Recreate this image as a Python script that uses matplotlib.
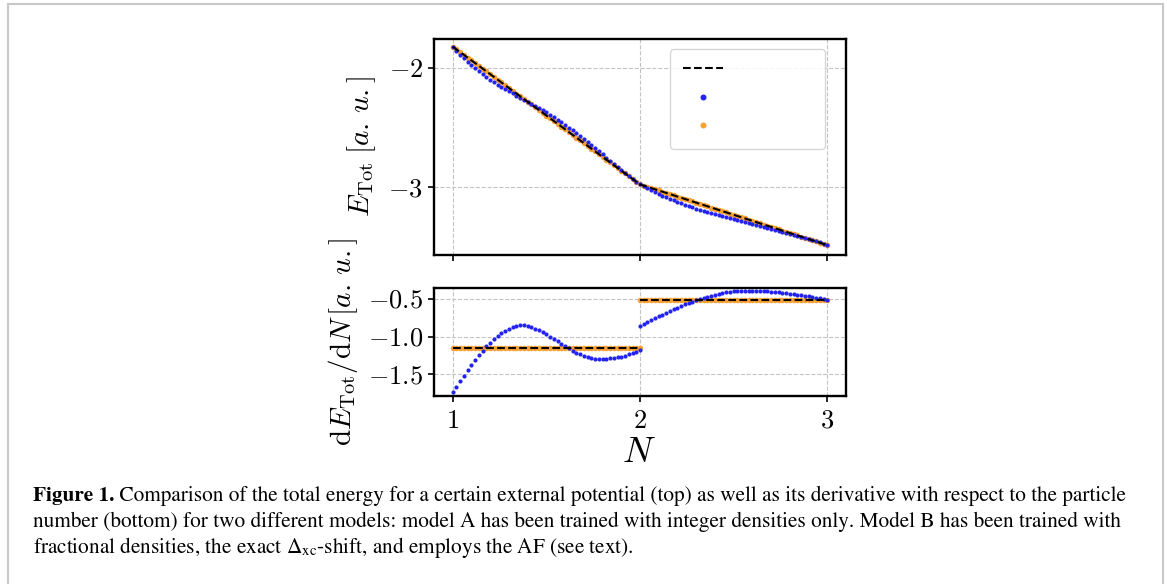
import numpy as np
import matplotlib
matplotlib.use('Agg')
import matplotlib.pyplot as plt
from matplotlib.lines import Line2D
from matplotlib.ticker import FuncFormatter

plt.rcParams['font.family'] = 'STIXGeneral'
plt.rcParams['mathtext.fontset'] = 'cm'

W, H = 1167, 584

# particle number grids (abscissa of the sampled models)
n_energy = np.linspace(1, 3, 101)
n_left = np.linspace(1, 2, 51)
n_right = np.linspace(2, 3, 51)

# exact curve: piecewise linear energy and constant derivative
n_exact = [1, 2, 3]
e_exact = [-1.820, -2.978, -3.488]
de_exact_left = -1.158
de_exact_right = -0.510

# model A (integer densities only), total energy
e_model_a = [
    -1.820, -1.854, -1.887, -1.918, -1.948, -1.976, -2.003, -2.028, -2.053, -2.076,
    -2.098, -2.119, -2.140, -2.159, -2.178, -2.196, -2.213, -2.231, -2.248, -2.265,
    -2.282, -2.299, -2.317, -2.335, -2.354, -2.373, -2.393, -2.413, -2.434, -2.456,
    -2.478, -2.501, -2.524, -2.548, -2.573, -2.598, -2.623, -2.649, -2.674, -2.700,
    -2.726, -2.752, -2.778, -2.804, -2.830, -2.855, -2.880, -2.905, -2.930, -2.954,
    -2.978,
    -2.995, -3.011, -3.027, -3.043, -3.058, -3.072, -3.086, -3.100, -3.113, -3.125,
    -3.137, -3.149, -3.160, -3.171, -3.182, -3.192, -3.202, -3.211, -3.220, -3.229,
    -3.238, -3.247, -3.255, -3.263, -3.271, -3.279, -3.287, -3.295, -3.303, -3.310,
    -3.318, -3.326, -3.334, -3.342, -3.350, -3.358, -3.366, -3.374, -3.383, -3.391,
    -3.400, -3.409, -3.418, -3.427, -3.436, -3.446, -3.455, -3.465, -3.475, -3.485,
]

# model B (fractional densities + AF), total energy
e_model_b = [
    -1.820, -1.843, -1.866, -1.889, -1.913, -1.936, -1.959, -1.982, -2.005, -2.028,
    -2.052, -2.075, -2.098, -2.121, -2.144, -2.167, -2.191, -2.214, -2.237, -2.260,
    -2.283, -2.306, -2.330, -2.353, -2.376, -2.399, -2.422, -2.445, -2.468, -2.492,
    -2.515, -2.538, -2.561, -2.584, -2.607, -2.631, -2.654, -2.677, -2.700, -2.723,
    -2.746, -2.770, -2.793, -2.816, -2.839, -2.862, -2.885, -2.909, -2.932, -2.955,
    -2.978,
    -2.988, -2.998, -3.009, -3.019, -3.029, -3.039, -3.049, -3.060, -3.070, -3.080,
    -3.090, -3.100, -3.111, -3.121, -3.131, -3.141, -3.151, -3.162, -3.172, -3.182,
    -3.192, -3.202, -3.213, -3.223, -3.233, -3.243, -3.253, -3.264, -3.274, -3.284,
    -3.294, -3.304, -3.315, -3.325, -3.335, -3.345, -3.355, -3.366, -3.376, -3.386,
    -3.396, -3.406, -3.417, -3.427, -3.437, -3.447, -3.457, -3.468, -3.478, -3.488,
]

# derivatives dE/dN
de_model_a_left = [
    -1.743, -1.668, -1.594, -1.521, -1.450, -1.380, -1.313, -1.249, -1.189, -1.132,
    -1.080, -1.032, -0.990, -0.953, -0.921, -0.895, -0.875, -0.861, -0.853, -0.853,
    -0.863, -0.878, -0.896, -0.918, -0.943, -0.971, -1.001, -1.032, -1.064, -1.096,
    -1.127, -1.158, -1.187, -1.213, -1.237, -1.257, -1.274, -1.286, -1.295, -1.298,
    -1.298, -1.293, -1.291, -1.286, -1.277, -1.266, -1.252, -1.236, -1.218, -1.199,
    -1.180,
]
de_model_a_right = [
    -0.860, -0.834, -0.809, -0.783, -0.758, -0.733, -0.709, -0.685, -0.661, -0.638,
    -0.616, -0.595, -0.574, -0.554, -0.535, -0.517, -0.500, -0.484, -0.469, -0.456,
    -0.443, -0.432, -0.422, -0.413, -0.406, -0.400, -0.395, -0.392, -0.390, -0.390,
    -0.390, -0.392, -0.393, -0.396, -0.399, -0.402, -0.407, -0.411, -0.417, -0.423,
    -0.429, -0.436, -0.443, -0.451, -0.459, -0.467, -0.475, -0.484, -0.492, -0.501,
    -0.510,
]
de_model_b_left = [-1.158] * 51
de_model_b_right = [-0.510] * 51

c_a = '#2424f0'
c_b = '#f7a035'
ms_a, ms_b = 3.0, 4.0

fig = plt.figure(figsize=(W / 100, H / 100), dpi=100)
ax1 = fig.add_axes([434 / W, 1 - 255 / H, 412 / W, 216 / H])
ax2 = fig.add_axes([434 / W, 1 - 396 / H, 412 / W, 108 / H])

# Top: total energy
ax1.plot(n_energy, e_model_a, 'o', color=c_a, ms=ms_a, mew=0, zorder=2.5)
ax1.plot(n_energy, e_model_b, 'o', color=c_b, ms=ms_b, mew=0, zorder=2)
ax1.plot(n_exact, e_exact, '--', color='black', lw=1.5, zorder=3)
ax1.set_ylim(-3.571, -1.756)
ax1.set_yticks([-3, -2])
ax1.yaxis.set_major_formatter(FuncFormatter(lambda v, p: f'${v:.0f}$'))

# Bottom: derivative
ax2.plot(n_left, de_model_a_left, 'o', color=c_a, ms=ms_a, mew=0, zorder=2.5)
ax2.plot(n_right, de_model_a_right, 'o', color=c_a, ms=ms_a, mew=0, zorder=2.5)
ax2.plot(n_left, de_model_b_left, 'o', color=c_b, ms=ms_b, mew=0, zorder=2)
ax2.plot(n_right, de_model_b_right, 'o', color=c_b, ms=ms_b, mew=0, zorder=2)
ax2.plot([1, 2], [de_exact_left] * 2, '--', color='black', lw=1.5, zorder=3)
ax2.plot([2, 3], [de_exact_right] * 2, '--', color='black', lw=1.5, zorder=3)
ax2.set_ylim(-1.79, -0.355)
ax2.set_yticks([-1.5, -1.0, -0.5])
ax2.yaxis.set_major_formatter(FuncFormatter(lambda v, p: f'${v:.1f}$'))

for ax in (ax1, ax2):
    ax.set_xlim(0.9, 3.1)
    ax.set_xticks([1, 2, 3])
    ax.xaxis.set_major_formatter(FuncFormatter(lambda v, p: f'${v:.0f}$'))
    ax.grid(True, ls='--', color='#c4c4c4', lw=0.8)
    ax.tick_params(labelsize=19, length=4, width=1.2, pad=4)
    for sp in ax.spines.values():
        sp.set_linewidth(1.7)
ax1.tick_params(labelbottom=False)
ax2.tick_params(axis='x', pad=6)

ax1.set_ylabel(r'$E_{\mathrm{Tot}}\;[a.\,u.]$', fontsize=21)
ax1.yaxis.set_label_coords(-0.135, 0.5)
ax2.set_ylabel(r'$\mathrm{d}E_{\mathrm{Tot}}/\mathrm{d}N\,[a.\,u.]$', fontsize=21)
ax2.yaxis.set_label_coords(-0.18, 0.5)
fig.text(639 / W, 1 - 453 / H, r'$N$', fontsize=26, ha='center', va='center')

# legend without text, as in the source figure
handles = [Line2D([], [], ls='--', color='black', lw=1.5),
           Line2D([], [], ls='none', marker='o', color=c_a, ms=4.3, mew=0),
           Line2D([], [], ls='none', marker='o', color=c_b, ms=4.3, mew=0)]
ax1.legend(handles, [' ', ' ', ' '], loc='upper right',
           bbox_to_anchor=(1 - 21 / 412, 1 - 10 / 216), borderaxespad=0,
           fontsize=14, handlelength=2.06, handletextpad=4.36, borderpad=0.65,
           labelspacing=0.55, framealpha=0.85, edgecolor='0.82')

# page frame around figure + caption
fr = dict(color='#c8c8c8', lw=1.5, transform=fig.transFigure)
fig.add_artist(Line2D([7.5 / W, 7.5 / W], [0, 1 - 4 / H], **fr))
fig.add_artist(Line2D([7.5 / W, 1163 / W], [1 - 4 / H, 1 - 4 / H], **fr))
fig.add_artist(Line2D([1163 / W, 1163 / W], [0, 1 - 4 / H], **fr))

# caption
line1_rest = ' Comparison of the total energy for a certain external potential (top) as well as its derivative with respect to the particle'
line2 = 'number (bottom) for two different models: model A has been trained with integer densities only. Model B has been trained with'
line3 = r'fractional densities, the exact $\Delta_{\mathrm{xc}}$-shift, and employs the AF (see text).'

renderer = fig.canvas.get_renderer()
probe = fig.text(0, 0, line2, fontsize=14)
fs = 14 * (1125 - 33) / probe.get_window_extent(renderer).width
probe.remove()

x0 = 33 / W
cap = dict(fontsize=fs, va='baseline', math_fontfamily='stix')
t1 = fig.text(x0, 1 - 501 / H, 'Figure 1.', weight='bold', **cap)
bb = t1.get_window_extent(renderer)
fig.text(bb.x1 / W, 1 - 501 / H, line1_rest, **cap)
fig.text(x0, 1 - 527 / H, line2, **cap)
fig.text(x0, 1 - 553 / H, line3, **cap)

fig.savefig('out.png', dpi=100)
